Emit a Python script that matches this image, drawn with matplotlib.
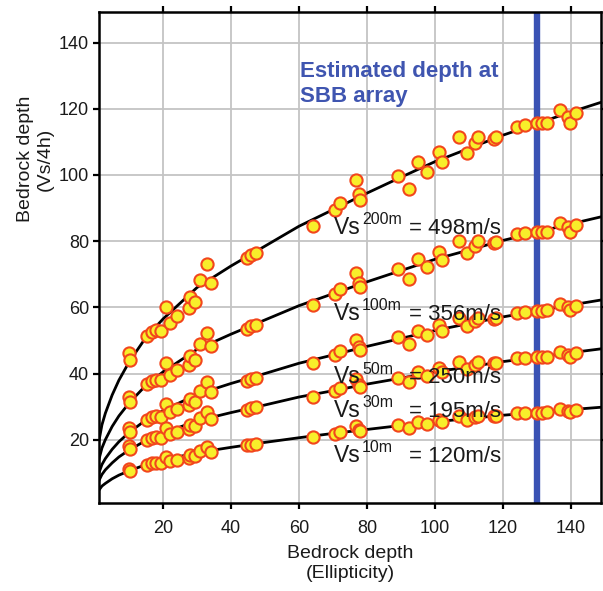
import matplotlib
matplotlib.use("Agg")
import matplotlib.pyplot as plt
import numpy as np

plt.rcParams['font.family'] = ['Liberation Sans', 'DejaVu Sans']

# ---- data ----
site_x = [10.0, 10.2, 15.3, 16.8, 17.8, 19.3, 21.0, 22.0, 24.0, 27.5, 28.0, 29.3,
          31.0, 32.9, 34.0, 44.8, 45.8, 47.4, 64.1, 70.5, 72.2, 76.8, 77.8, 77.9,
          89.2, 92.3, 95.0, 97.7, 101.1, 102.2, 107.1, 109.5, 111.7, 112.8, 117.4,
          117.9, 124.3, 126.7, 130.2, 131.6, 133.1, 137.0, 139.3, 139.8, 141.5]

pts_498 = [46.2, 44.0, 51.2, 52.7, 53.1, 53.0, 60.2, 55.4, 57.5, 59.7, 63.2, 61.7,
           68.2, 73.2, 67.3, 74.8, 75.8, 76.5, 84.7, 89.3, 91.5, 98.5, 94.2, 92.3,
           99.8, 95.9, 104.0, 101.0, 107.0, 103.9, 111.6, 106.6, 109.8, 111.6, 110.8,
           111.4, 114.6, 115.1, 115.6, 115.6, 115.8, 119.6, 117.6, 115.8, 118.6]
pts_356 = [32.8, 31.3, 36.7, 37.7, 38.0, 37.9, 43.1, 39.7, 41.2, 42.7, 45.3, 44.2,
           48.8, 52.4, 48.2, 53.6, 54.3, 54.8, 60.6, 63.9, 65.5, 70.5, 67.4, 66.1,
           71.5, 68.7, 74.5, 72.3, 76.6, 74.4, 79.9, 76.3, 78.6, 79.9, 79.3,
           79.8, 82.1, 82.4, 82.8, 82.8, 82.9, 85.6, 84.2, 82.9, 84.9]
pts_250 = [23.6, 22.4, 26.1, 26.9, 27.1, 27.0, 30.7, 28.3, 29.3, 30.4, 32.2, 31.5,
           34.8, 37.3, 34.3, 37.6, 38.3, 38.8, 43.2, 45.5, 46.7, 50.2, 48.0, 47.1,
           50.9, 48.9, 53.0, 51.5, 54.6, 53.0, 56.9, 54.4, 56.0, 56.9, 56.5,
           56.8, 58.4, 58.7, 59.0, 59.0, 59.1, 61.0, 60.0, 59.1, 60.5]
pts_195 = [18.0, 17.1, 19.9, 20.5, 20.7, 20.6, 23.4, 21.6, 22.4, 23.2, 24.6, 24.0,
           26.5, 28.5, 26.2, 29.1, 29.5, 29.8, 32.9, 34.7, 35.6, 38.3, 36.6, 35.9,
           38.8, 37.3, 40.5, 39.3, 41.6, 40.4, 43.4, 41.5, 42.7, 43.4, 43.1,
           43.3, 44.6, 44.8, 45.0, 45.0, 45.0, 46.5, 45.7, 45.0, 46.1]
pts_120 = [11.3, 10.7, 12.5, 12.9, 13.0, 12.9, 14.7, 13.5, 14.0, 14.6, 15.4, 15.1,
           16.7, 17.9, 16.4, 18.3, 18.5, 18.7, 20.7, 21.8, 22.4, 24.1, 23.0, 22.5,
           24.4, 23.4, 25.4, 24.7, 26.1, 25.4, 27.3, 26.0, 26.8, 27.3, 27.1,
           27.2, 28.0, 28.1, 28.2, 28.2, 28.3, 29.2, 28.7, 28.3, 29.0]

curve_x = [1, 2, 3, 5, 7, 10, 15, 20, 30, 40, 50, 60, 70, 80, 90, 100, 110, 120, 130, 140, 150]
curve_498 = [19.0, 24.5, 28.0, 33.5, 38.0, 43.5, 51.0, 56.5, 66.0, 72.5, 78.5, 84.5, 89.5,
             94.5, 99.3, 104.0, 108.0, 112.0, 115.5, 119.0, 122.3]
curve_356 = [13.6, 17.5, 20.0, 24.0, 27.2, 31.1, 36.5, 40.5, 47.3, 51.9, 56.2, 60.5, 64.1,
             67.7, 71.1, 74.5, 77.3, 80.2, 82.7, 85.2, 87.6]
curve_250 = [9.7, 12.5, 14.3, 17.1, 19.4, 22.2, 26.0, 28.8, 33.7, 37.0, 40.0, 43.1, 45.6,
             48.2, 50.6, 53.0, 55.1, 57.1, 58.9, 60.7, 62.4]
curve_195 = [7.4, 9.5, 10.9, 13.0, 14.8, 16.9, 19.8, 22.0, 25.7, 28.2, 30.5, 32.9, 34.8,
             36.8, 38.6, 40.5, 42.0, 43.6, 44.9, 46.3, 47.6]
curve_120 = [4.6, 6.0, 6.8, 8.2, 9.3, 10.6, 12.5, 13.8, 16.1, 17.7, 19.2, 20.6, 21.9,
             23.1, 24.3, 25.4, 26.4, 27.4, 28.2, 29.1, 29.9]

label_depths = ['200m', '100m', '50m', '30m', '10m']
label_vs = ['498m/s', '356m/s', '250m/s', '195m/s', '120m/s']
label_y = [82.2, 56.2, 37.0, 27.0, 13.4]

sbb_depth = 130
ticks = [20, 40, 60, 80, 100, 120, 140]

# ---- figure ----
fig = plt.figure(figsize=(6.03, 5.91), dpi=100)
ax = fig.add_axes([0.164, 0.149, 0.833, 0.831])

ax.set_xlim(1.1, 149.0)
ax.set_ylim(0.9, 149.3)
ax.set_xticks(ticks)
ax.set_yticks(ticks)
ax.grid(True, color='#c4c4c4', linewidth=1.3)
ax.set_axisbelow(True)

for cy in [curve_498, curve_356, curve_250, curve_195, curve_120]:
    ax.plot(curve_x, cy, color='black', lw=2.0, zorder=2, solid_capstyle='butt')

ax.axvline(sbb_depth, color='#3a52b4', lw=4.6, zorder=2.5)

for py in [pts_498, pts_356, pts_250, pts_195, pts_120]:
    ax.plot(site_x, py, linestyle='none', marker='o', markersize=8.8,
            markerfacecolor='#f8ee2a', markeredgecolor='#f2461c',
            markeredgewidth=1.5, zorder=3)

for d, v, y in zip(label_depths, label_vs, label_y):
    ax.text(70.2, y, 'Vs', fontsize=16.5, color='#1a1a1a', zorder=4,
            ha='left', va='baseline')
    ax.text(78.6, y + 2.9, d, fontsize=11.5, color='#1a1a1a', zorder=4,
            ha='left', va='baseline')
    ax.text(92.5, y, '= ' + v, fontsize=16, color='#1a1a1a', zorder=4,
            ha='left', va='baseline')

ax.text(60.4, 122.1, 'Estimated depth at\nSBB array', fontsize=16, fontweight='bold',
        color='#3f55b0', ha='left', va='baseline', linespacing=1.25, zorder=4)

for s in ax.spines.values():
    s.set_linewidth(1.8)
ax.tick_params(axis='both', which='major', direction='out', length=4, width=1.6,
               labelsize=13, top=True, right=True, labelcolor='#1a1a1a')
ax.tick_params(axis='x', pad=8)
ax.tick_params(axis='y', pad=3)

ax.set_xlabel('Bedrock depth\n(Ellipticity)', fontsize=14, color='#1a1a1a',
              linespacing=1.2, labelpad=6)
ax.set_ylabel('Bedrock depth\n(Vs/4h)', fontsize=14, color='#1a1a1a',
              linespacing=1.2)
ax.yaxis.set_label_coords(-0.09, 0.70)

fig.savefig('out.png', dpi=100)
